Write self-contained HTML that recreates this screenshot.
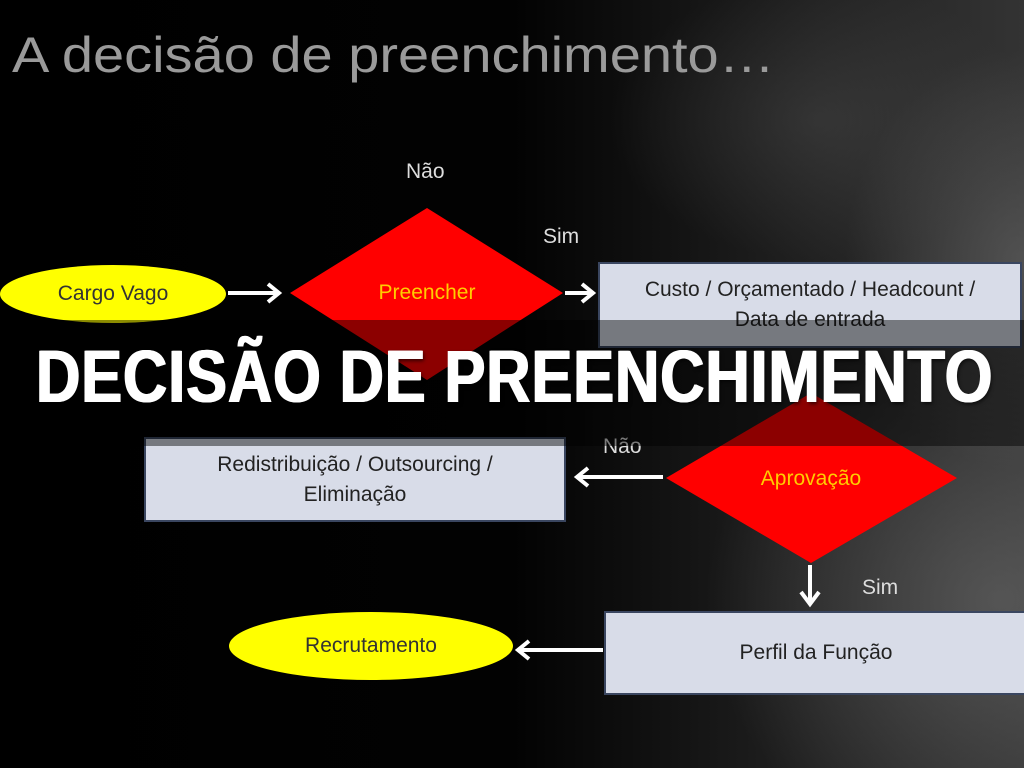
<!DOCTYPE html>
<html><head><meta charset="utf-8"><style>
html,body{margin:0;padding:0}
body{width:1024px;height:768px;overflow:hidden;position:relative;background:#000;font-family:"Liberation Sans",sans-serif}
.bg{position:absolute;inset:0;background:
radial-gradient(ellipse 420px 380px at 1000px 600px,rgba(120,120,120,.5),rgba(0,0,0,0) 70%),
radial-gradient(ellipse 300px 200px at 820px 120px,rgba(80,80,80,.4),rgba(0,0,0,0) 70%),
radial-gradient(ellipse 250px 300px at 1020px 260px,rgba(110,110,110,.5),rgba(0,0,0,0) 70%),
linear-gradient(90deg,#000 0%,#020202 50%,#222 80%,#333 100%);}
.t{position:absolute;white-space:nowrap}
.box{position:absolute;background:#d8dce8;border:2px solid #3a4660;box-sizing:border-box;color:#222;font-size:21px;text-align:center;display:flex;align-items:center;justify-content:center;line-height:30px}
.ell{position:absolute;background:#ffff00;border-radius:50%;color:#333;font-size:21px;display:flex;align-items:center;justify-content:center}
</style></head><body>
<div class="bg"></div>
<div class="t" style="left:12px;top:26px;font-size:50px;color:#9a9a9a;transform:scaleX(1.12);transform-origin:left top">A decisão de preenchimento…</div>
<svg width="1024" height="768" style="position:absolute;left:0;top:0">
<polygon points="427,208 563,293 427,380 290,293" fill="#ff0000"/>
<polygon points="811,393 957,478 811,563 666,478" fill="#ff0000"/>
<g stroke="#fff" stroke-width="4" fill="none">
<line x1="228" y1="293" x2="278" y2="293"/><polyline points="268,284 279,293 268,302"/>
<line x1="565" y1="293" x2="592" y2="293"/><polyline points="582,284 593,293 582,302"/>
<line x1="663" y1="477" x2="578" y2="477"/><polyline points="588,468 577,477 588,486"/>
<line x1="810" y1="565" x2="810" y2="602"/><polyline points="801,592 810,604 819,592"/>
<line x1="603" y1="650" x2="519" y2="650"/><polyline points="529,641 518,650 529,659"/>
</g>
<text x="427" y="299" font-size="21" fill="#ffcc00" text-anchor="middle" font-family="Liberation Sans">Preencher</text>
<text x="811" y="485" font-size="21" fill="#ffcc00" text-anchor="middle" font-family="Liberation Sans">Aprovação</text>
</svg>
<div class="ell" style="left:0;top:265px;width:226px;height:58px">Cargo Vago</div>
<div class="ell" style="left:229px;top:612px;width:284px;height:68px">Recrutamento</div>
<div class="box" style="left:598px;top:262px;width:424px;height:86px">Custo / Orçamentado / Headcount /<br>Data de entrada</div>
<div class="box" style="left:144px;top:437px;width:422px;height:85px">Redistribuição / Outsourcing /<br>Eliminação</div>
<div class="box" style="left:604px;top:611px;width:424px;height:84px">Perfil da Função</div>
<div class="t" style="left:406px;top:160px;font-size:21px;color:#ddd">Não</div>
<div class="t" style="left:543px;top:225px;font-size:21px;color:#ddd">Sim</div>
<div class="t" style="left:603px;top:435px;font-size:21px;color:#ddd">Não</div>
<div class="t" style="left:862px;top:576px;font-size:21px;color:#ddd">Sim</div>
<div style="position:absolute;left:0;top:320px;width:1024px;height:126px;background:rgba(0,0,0,.45)"></div>
<div class="t" style="left:36px;top:334px;font-size:74px;font-weight:bold;color:#fff;letter-spacing:1px;transform:scaleX(0.83);transform-origin:left top;text-shadow:1px 0 0 #fff,-1px 0 0 #fff,2px 2px 4px rgba(0,0,0,.6)">DECISÃO DE PREENCHIMENTO</div>
</body></html>
